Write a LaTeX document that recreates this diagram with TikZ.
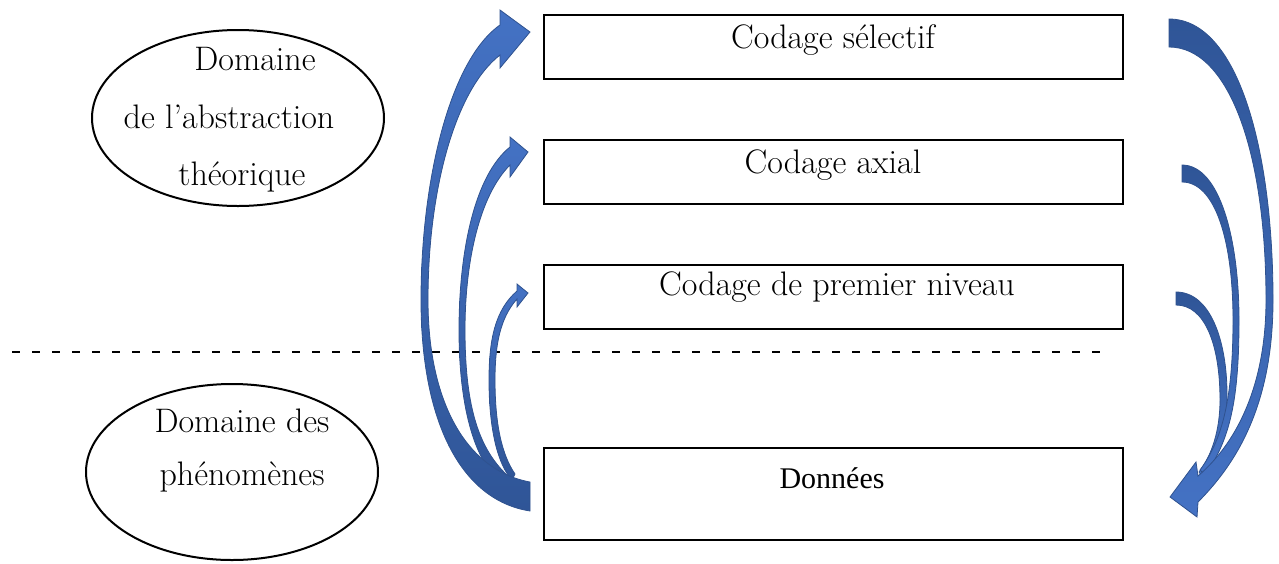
\documentclass[tikz,border=0pt]{standalone}
\usepackage{fontspec}
\newfontfamily\timesf{Liberation Serif}
\usetikzlibrary{shapes.geometric}
\definecolor{arrlight}{HTML}{4472C4}
\definecolor{arrdark}{HTML}{2F5597}
\definecolor{arrline}{HTML}{2F528F}
\begin{document}
\begin{tikzpicture}[x=1pt,y=-1pt,
  box/.style={draw, line width=1.8pt, minimum width=579pt, minimum height=64pt, inner sep=0pt},
  dom/.style={draw, ellipse, line width=2pt, minimum width=292pt, minimum height=176pt, inner sep=0pt},
  lbl/.style={anchor=base, inner sep=0pt, font=\fontsize{34}{40}\selectfont},
  leftarr/.style={draw=arrline, line width=0.8pt, top color=arrlight, bottom color=arrdark},
  rightarr/.style={draw=arrline, line width=0.8pt, top color=arrdark, bottom color=arrlight},
  sep/.style={dash pattern=on 8pt off 12pt, line width=1.3pt}]
\useasboundingbox (0,0) rectangle (1279,563);

% ellipses
\node[dom] (e1) at (238,118) {};
\node[dom] (e2) at (232,472) {};
\node[lbl] (d1a) at (255,70) {Domaine};
\node[lbl] (d1b) at (229,128) {de l’abstraction};
\node[lbl] (d1c) at (242,185) {théorique};
\node[lbl] (d2a) at (242,432) {Domaine des};
\node[lbl] (d2b) at (242,485) {phénomènes};

% boxes
\node[box] (b1) at (833.5,47) {};
\node[box] (b2) at (833.5,172) {};
\node[box] (b3) at (833.5,297) {};
\node[box, minimum height=92pt] (b4) at (833.5,494) {};
\node[lbl] (t1) at (833,48) {Codage sélectif};
\node[lbl] (t2) at (833,173) {Codage axial};
\node[lbl] (t3) at (837,295) {Codage de premier niveau};
\node[lbl, font=\timesf\fontsize{30}{36}\selectfont] (t4) at (832,488) {Données};

% dashed separator
\coordinate (dl) at (12,352);
\coordinate (dr) at (1108,352);
\draw[sep] (dl) -- (dr);

% left arrows (from Données up to the codings)
\path[leftarr] (512,480) .. controls (498,465) and (489,430) .. (489,380)
  .. controls (489,340) and (495,310) .. (517,291)
  -- (517,284) -- (528,293) -- (517,307) -- (517,299)
  .. controls (500,318) and (495,345) .. (495,380)
  .. controls (495,425) and (502,455) .. (515,474) -- cycle;

\path[leftarr] (505,485) .. controls (480,470) and (459,420) .. (459,330)
  .. controls (459,250) and (475,175) .. (510,147)
  -- (510,137) -- (528,152) -- (510,177) -- (510,165)
  .. controls (480,195) and (465,260) .. (465,330)
  .. controls (465,410) and (480,450) .. (508,476) -- cycle;

\path[leftarr] (530,511) .. controls (460,500) and (421,420) .. (421,300)
  .. controls (421,180) and (450,60) .. (500,25)
  -- (500,10) -- (530,32) -- (500,68) -- (500,55)
  .. controls (455,90) and (428,190) .. (428,300)
  .. controls (428,400) and (465,470) .. (530,482) -- cycle;

% right arrows (from the codings down to Données)
\path[rightarr] (1176,292) .. controls (1210,292) and (1227,340) .. (1227,395)
  .. controls (1227,430) and (1218,460) .. (1203,478)
  -- (1199,472) .. controls (1212,455) and (1220,430) .. (1220,400)
  .. controls (1220,345) and (1205,305) .. (1176,305) -- cycle;

\path[rightarr] (1182,165) .. controls (1220,165) and (1239,240) .. (1239,320)
  .. controls (1239,400) and (1230,440) .. (1205,475)
  -- (1200,470) .. controls (1222,440) and (1233,400) .. (1233,320)
  .. controls (1233,240) and (1215,182) .. (1182,182) -- cycle;

\path[rightarr] (1169,19) .. controls (1238,19) and (1273,150) .. (1273,300)
  .. controls (1273,400) and (1240,460) .. (1198,502)
  -- (1197,517) -- (1170,497) -- (1196,462) -- (1198,476)
  .. controls (1240,440) and (1266,380) .. (1266,300)
  .. controls (1266,150) and (1228,47) .. (1169,47) -- cycle;
\end{tikzpicture}
\end{document}
